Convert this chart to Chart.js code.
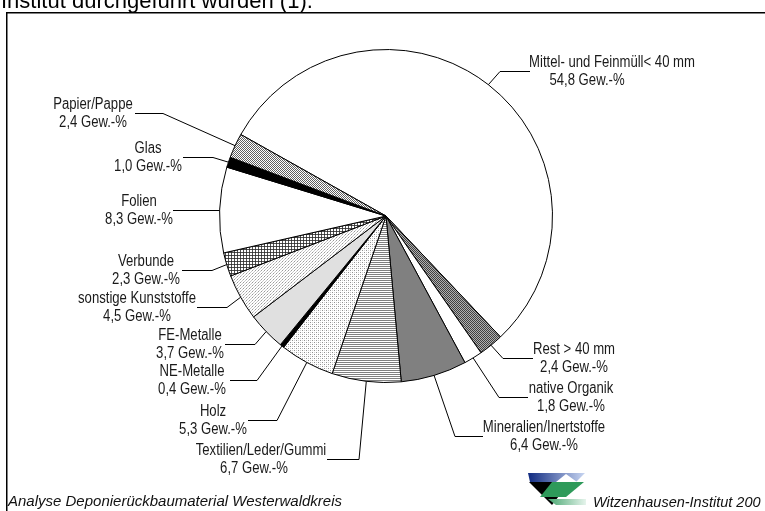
<!DOCTYPE html>
<html>
<head>
<meta charset="utf-8">
<script src="https://cdn.jsdelivr.net/npm/chart.js@4.4.1/dist/chart.umd.min.js"></script>
<style>
  html, body { margin: 0; padding: 0; background: #fff; }
  canvas { display: block; }
</style>
</head>
<body>
<canvas id="pieChart" width="765" height="511"></canvas>
<script>
// --- Data (Gew.-%) ---
const categories = [
    'Mittel- und Feinmüll< 40 mm', 'Rest > 40 mm', 'native Organik', 'Mineralien/Inertstoffe',
    'Textilien/Leder/Gummi', 'Holz', 'NE-Metalle', 'FE-Metalle', 'sonstige Kunststoffe',
    'Verbunde', 'Folien', 'Glas', 'Papier/Pappe'
];
const values = [54.8, 2.4, 1.8, 6.4, 6.7, 5.3, 0.4, 3.7, 4.5, 2.3, 8.3, 1.0, 2.4];
const unitLabel = ' Gew.-%';

// label placement: [elbowX, lineY, lineEndX, textCenterX, secondLineShift]
const labelLayout = [
    [500, 71, 530, 612, -25],
    [503, 358, 533, 574, 0],
    [499, 397, 528, 571, 0],
    [455, 436, 483, 544, 0],
    [359, 459, 327, 261, -7],
    [277, 420, 248, 213, 0],
    [257, 380, 230, 192, 0],
    [255, 344, 225, 190, 0],
    [227, 307, 197, 137, 0],
    [212, 270, 182, 146, 0],
    [219, 210, 173, 139, 0],
    [213, 157, 183, 148, 0],
    [163, 113, 135, 93, 0]
];

// no narrow font installed -> squeeze a normal sans horizontally
const labelFont = '16px "Liberation Sans", Arial, sans-serif';
const narrowScale = 0.82;

// --- Fill patterns (b/w print style) ---
function makePattern(w, h, bg, pixels) {
    const c = document.createElement('canvas');
    c.width = w; c.height = h;
    const p = c.getContext('2d');
    p.fillStyle = bg;
    p.fillRect(0, 0, w, h);
    pixels.forEach(([x, y, col]) => {
        p.fillStyle = col;
        p.fillRect(x, y, 1, 1);
    });
    return p.createPattern(c, 'repeat');
}

const ctx = document.getElementById('pieChart').getContext('2d');

const checkerLight = makePattern(2, 2, '#ffffff', [[0, 0, '#606060'], [1, 1, '#606060']]);
const checkerDark = makePattern(2, 2, '#b0b0b0', [[0, 0, '#404040'], [1, 1, '#404040']]);
const gridHatch = makePattern(3, 3, '#ffffff', [[0, 0, '#303030'], [1, 0, '#505050'], [2, 0, '#505050'], [0, 1, '#505050'], [0, 2, '#505050']]);
const dotsA = makePattern(3, 3, '#ffffff', [[0, 0, '#9a9a9a'], [1, 2, '#c8c8c8'], [2, 1, '#c8c8c8']]);
const dotsB = makePattern(4, 4, '#ffffff', [[0, 0, '#909090'], [2, 2, '#909090'], [2, 0, '#d0d0d0'], [0, 2, '#d0d0d0']]);
const hLines = makePattern(2, 2, '#ffffff', [[0, 0, '#808080'], [1, 0, '#808080']]);

const sliceFills = [
    '#ffffff', checkerDark, '#ffffff', '#808080',
    hLines, dotsB, '#000000', '#e0e0e0', dotsA,
    gridHatch, '#ffffff', '#000000', checkerLight
];

function valueText(v) {
    return v.toFixed(1).replace('.', ',') + unitLabel;
}

function narrowText(c, text, x, y) {
    c.save();
    c.translate(x, y);
    c.scale(narrowScale, 1);
    c.fillText(text, 0, 0);
    c.restore();
}

// --- Page decoration: caption line, frame, footer, logo ---
const framePlugin = {
    id: 'framePlugin',
    beforeDraw(chart) {
        const c = chart.ctx;
        c.save();
        c.fillStyle = '#ffffff';
        c.fillRect(0, 0, chart.width, chart.height);
        c.fillStyle = '#000';
        c.font = '22px "Liberation Sans", Arial, sans-serif';
        c.textBaseline = 'alphabetic';
        c.fillText('Institut durchgeführt wurden (1).', 1, 8);
        c.strokeStyle = '#000';
        c.lineWidth = 1.5;
        c.strokeRect(6.75, 12.75, 800, 600);
        c.restore();
    },
    afterDraw(chart) {
        const c = chart.ctx;
        c.save();
        c.fillStyle = '#111';
        c.font = 'italic 15px "Liberation Sans", Arial, sans-serif';
        c.fillText('Analyse Deponierückbaumaterial Westerwaldkreis', 8, 506);
        c.font = 'italic 14.5px "Liberation Sans", Arial, sans-serif';
        c.fillText('Witzenhausen-Institut 200', 593, 507);

        // logo
        let g = c.createLinearGradient(528, 0, 585, 0);
        g.addColorStop(0, '#102a80');
        g.addColorStop(1, '#c8d6f2');
        c.fillStyle = g;
        c.beginPath();
        c.moveTo(528, 473); c.lineTo(585, 473); c.lineTo(576, 482); c.lineTo(530, 482);
        c.closePath(); c.fill();
        c.fillStyle = '#ffffff';
        c.beginPath();
        c.moveTo(556, 482); c.lineTo(566, 474); c.lineTo(577, 482);
        c.closePath(); c.fill();
        c.fillStyle = '#000000';
        c.beginPath();
        c.moveTo(529, 482); c.lineTo(552, 482); c.lineTo(562, 492); c.lineTo(552, 505);
        c.closePath(); c.fill();
        c.fillStyle = '#2e9a5a';
        c.beginPath();
        c.moveTo(552, 482); c.lineTo(584, 482); c.lineTo(566, 497); c.lineTo(540, 497);
        c.closePath(); c.fill();
        g = c.createLinearGradient(545, 0, 586, 0);
        g.addColorStop(0, '#3aa066');
        g.addColorStop(1, '#e6f4ec');
        c.fillStyle = g;
        c.beginPath();
        c.moveTo(548, 499); c.lineTo(586, 499); c.lineTo(586, 505); c.lineTo(556, 505);
        c.closePath(); c.fill();
        c.restore();
    }
};

// --- Slice labels with leader lines ---
const leaderLabels = {
    id: 'leaderLabels',
    afterDatasetsDraw(chart) {
        const c = chart.ctx;
        const meta = chart.getDatasetMeta(0);
        c.save();
        c.strokeStyle = '#000';
        c.lineWidth = 1;
        c.font = labelFont;
        c.fillStyle = '#1a1a1a';
        c.textAlign = 'center';
        c.textBaseline = 'alphabetic';
        meta.data.forEach((arc, i) => {
            const p = arc.getProps(['x', 'y', 'startAngle', 'endAngle', 'outerRadius'], true);
            const mid = (p.startAngle + p.endAngle) / 2;
            const ax = p.x + Math.cos(mid) * p.outerRadius;
            const ay = p.y + Math.sin(mid) * p.outerRadius;
            const [ex, ly, endX, tx, shift] = labelLayout[i];
            c.beginPath();
            c.moveTo(ax, ay);
            c.lineTo(ex, ly + 0.5);
            c.lineTo(endX, ly + 0.5);
            c.stroke();
            narrowText(c, categories[i], tx, ly - 4.5);
            narrowText(c, valueText(values[i]), tx + shift, ly + 14);
        });
        c.restore();
    }
};

new Chart(ctx, {
    type: 'pie',
    data: {
        labels: categories,
        datasets: [{
            data: values,
            backgroundColor: sliceFills,
            borderColor: '#000000',
            borderWidth: 1
        }]
    },
    options: {
        responsive: false,
        animation: false,
        rotation: -60.7,
        layout: { padding: { left: 219, right: 212, top: 49, bottom: 128 } },
        plugins: {
            legend: { display: false },
            tooltip: { enabled: false }
        }
    },
    plugins: [framePlugin, leaderLabels]
});
</script>
</body>
</html>
